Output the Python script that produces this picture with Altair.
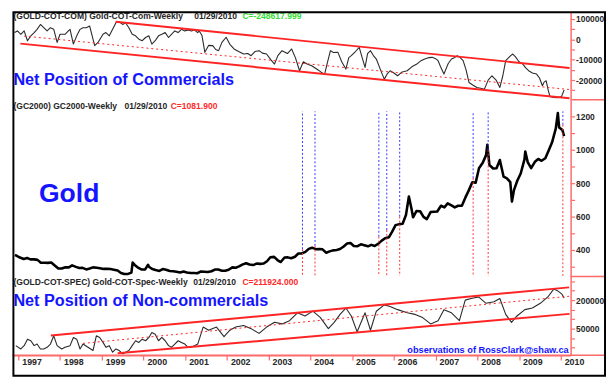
import altair as alt
import pandas as pd

FONT = "Liberation Sans, Arial, sans-serif"
AXIS_RED = "#ff6a6a"
CH_RED = "#ff2424"
BLUE = "#1414ff"
DARK = "#262626"

# ---------------- data (decimal years) ----------------
years = list(range(1997, 2011))
x_domain = [1996.859, 2010.236]

com_t = [1996.91, 1996.98, 1997.06, 1997.14, 1997.22, 1997.30, 1997.38, 1997.45,
         1997.53, 1997.61, 1997.69, 1997.77, 1997.85, 1997.89, 1997.93, 1998.00, 1998.12, 1998.20,
         1998.24, 1998.32, 1998.40, 1998.48, 1998.55, 1998.63, 1998.71, 1998.75, 1998.83, 1998.91,
         1999.03, 1999.10, 1999.18, 1999.26, 1999.34, 1999.42, 1999.50, 1999.57, 1999.65, 1999.73,
         1999.81, 1999.89, 1999.97, 2000.05, 2000.13, 2000.20, 2000.28, 2000.36, 2000.44, 2000.52,
         2000.60, 2000.67, 2000.75, 2000.83, 2000.91, 2000.99, 2001.07, 2001.15, 2001.22, 2001.30,
         2001.33, 2001.40, 2001.47, 2001.56, 2001.66, 2001.73, 2001.80, 2001.88, 2001.98, 2002.07,
         2002.17, 2002.28, 2002.40, 2002.50, 2002.58, 2002.67, 2002.77, 2002.85, 2002.95, 2003.05,
         2003.14, 2003.22, 2003.32, 2003.45, 2003.55, 2003.64, 2003.74, 2003.83, 2003.92, 2004.03,
         2004.15, 2004.25, 2004.34, 2004.40, 2004.48, 2004.55, 2004.66, 2004.75, 2004.85, 2004.92,
         2004.98, 2005.08, 2005.17, 2005.24, 2005.31, 2005.37, 2005.44, 2005.51, 2005.58, 2005.68,
         2005.77, 2005.84, 2005.91, 2006.00, 2006.09, 2006.20, 2006.32, 2006.43, 2006.55, 2006.65,
         2006.74, 2006.83, 2006.92, 2007.00, 2007.06, 2007.13, 2007.20, 2007.30, 2007.38, 2007.45,
         2007.52, 2007.59, 2007.66, 2007.73, 2007.80, 2007.90, 2007.99, 2008.08, 2008.17, 2008.26,
         2008.35, 2008.45, 2008.54, 2008.61, 2008.68, 2008.80, 2008.85, 2008.91, 2009.00, 2009.09,
         2009.16, 2009.23, 2009.32, 2009.42, 2009.49, 2009.56, 2009.60, 2009.65, 2009.70, 2009.74,
         2009.83, 2009.92, 2010.02, 2010.08]
com_v = [32700, 40900, 24500, 40900, -7200, 16800, 32700, 48600,
         72600, 56700, 40900, 56700, 48600, 16800, -15400, 24500, 24500, 40900,
         48600, -23500, 16800, 48600, 56700, 56700, 64700, 32700, -31300, -15400,
         24500, 32700, 16800, 48600, 80800, 85600, 72600, 80800, 56700, 24500,
         16800, 500, -7200, 8700, 16800, -23500, -7200, 16800, 24500, 32700,
         8700, 24500, 40900, 32700, 48600, 40900, 46000, 40900, 45000, 32700,
         42000, 20000, -64000, -30000, -31200, -50000, -55800, -15000, 9800, -25000,
         -47600, -60000, -72200, -70000, -80400, -60000, -55800, -68000, -72200, -100000,
         -121400, -80000, -55800, -70000, -47600, -90000, -154200, -110000, -121400, -130000,
         -146000, -160000, -172000, -120000, -55800, -65000, -64000, -110000, -146000, -90000,
         -80400, -60000, -39400, -90000, -137800, -70000, -55800, -80000, -96800, -150000,
         -195200, -170000, -154200, -165000, -178800, -160000, -154200, -135000, -121400, -105000,
         -96800, -90000, -88600, -95000, -105000, -140000, -170600, -120000, -96800, -90000,
         -80400, -90000, -105000, -150000, -211600, -225000, -236200, -240000, -244400, -200000,
         -178800, -200000, -236200, -180000, -105000, -80000, -72200, -85000, -110000, -121400,
         -140000, -154200, -165000, -170600, -190000, -228000, -210000, -203400, -250000, -280000,
         -285000, -286000, -280000, -248600]

gold_t = [1996.92, 1997.04, 1997.13, 1997.21, 1997.29, 1997.38, 1997.46, 1997.54,
          1997.63, 1997.71, 1997.79, 1997.88, 1997.96, 1998.04, 1998.13, 1998.21, 1998.29, 1998.38,
          1998.46, 1998.54, 1998.63, 1998.71, 1998.79, 1998.88, 1998.96, 1999.04, 1999.13, 1999.21,
          1999.29, 1999.38, 1999.46, 1999.54, 1999.63, 1999.71, 1999.74, 1999.79, 1999.88, 1999.96,
          2000.04, 2000.11, 2000.13, 2000.21, 2000.29, 2000.38, 2000.46, 2000.54, 2000.63, 2000.71,
          2000.79, 2000.88, 2000.96, 2001.04, 2001.13, 2001.21, 2001.29, 2001.38, 2001.46, 2001.54,
          2001.63, 2001.71, 2001.79, 2001.88, 2001.96, 2002.04, 2002.13, 2002.21, 2002.29, 2002.38,
          2002.46, 2002.54, 2002.63, 2002.71, 2002.79, 2002.88, 2002.96, 2003.04, 2003.13, 2003.21,
          2003.29, 2003.38, 2003.46, 2003.54, 2003.63, 2003.71, 2003.79, 2003.88, 2003.96, 2004.04,
          2004.13, 2004.21, 2004.29, 2004.38, 2004.46, 2004.54, 2004.63, 2004.71, 2004.79, 2004.88,
          2004.96, 2005.04, 2005.13, 2005.21, 2005.29, 2005.38, 2005.46, 2005.54, 2005.63, 2005.71,
          2005.79, 2005.88, 2005.96, 2006.04, 2006.13, 2006.21, 2006.29, 2006.36, 2006.42, 2006.46,
          2006.54, 2006.63, 2006.71, 2006.79, 2006.88, 2006.96, 2007.04, 2007.13, 2007.21, 2007.29,
          2007.38, 2007.46, 2007.54, 2007.63, 2007.71, 2007.79, 2007.88, 2007.96, 2008.04, 2008.13,
          2008.21, 2008.24, 2008.29, 2008.38, 2008.46, 2008.54, 2008.63, 2008.71, 2008.79, 2008.83,
          2008.88, 2008.96, 2009.04, 2009.13, 2009.15, 2009.21, 2009.29, 2009.38, 2009.46, 2009.54,
          2009.63, 2009.71, 2009.79, 2009.88, 2009.93, 2009.96, 2010.04, 2010.08]
gold_v = [371, 355, 346, 352, 344, 344, 341, 324,
          324, 323, 325, 306, 289, 289, 297, 296, 308, 299,
          292, 293, 284, 289, 296, 294, 291, 287, 287, 286,
          282, 277, 262, 256, 257, 265, 325, 311, 293, 283,
          284, 312, 300, 286, 280, 275, 286, 282, 274, 273,
          270, 266, 272, 266, 262, 263, 261, 272, 270, 268,
          273, 283, 283, 276, 276, 282, 296, 294, 302, 314,
          321, 313, 310, 319, 317, 319, 333, 357, 359, 340,
          328, 355, 356, 351, 360, 379, 379, 389, 407, 414,
          405, 406, 404, 384, 392, 398, 400, 406, 420, 439,
          442, 424, 423, 434, 429, 422, 431, 424, 438, 456,
          470, 476, 510, 549, 555, 557, 610, 720, 650, 596,
          633, 632, 598, 585, 627, 629, 631, 665, 655, 679,
          667, 655, 665, 665, 712, 754, 806, 803, 889, 922,
          968, 1030, 909, 888, 889, 939, 839, 829, 806, 690,
          760, 816, 858, 943, 990, 924, 890, 928, 945, 934,
          949, 996, 1043, 1127, 1220, 1134, 1118, 1082]

spec_t = [1996.94, 1997.06, 1997.14, 1997.22, 1997.30, 1997.38, 1997.45, 1997.53,
          1997.61, 1997.69, 1997.77, 1997.85, 1997.93, 1998.04, 1998.12, 1998.24, 1998.32, 1998.40,
          1998.48, 1998.55, 1998.67, 1998.79, 1998.87, 1998.95, 1999.03, 1999.10, 1999.18, 1999.26,
          1999.34, 1999.42, 1999.50, 1999.57, 1999.65, 1999.73, 1999.81, 1999.89, 1999.97, 2000.05,
          2000.13, 2000.20, 2000.28, 2000.36, 2000.44, 2000.52, 2000.60, 2000.67, 2000.75, 2000.83,
          2000.91, 2000.99, 2001.07, 2001.15, 2001.22, 2001.30, 2001.43, 2001.56, 2001.75, 2001.93,
          2002.07, 2002.21, 2002.40, 2002.58, 2002.77, 2002.95, 2003.14, 2003.32, 2003.50, 2003.69,
          2003.87, 2004.06, 2004.24, 2004.43, 2004.57, 2004.71, 2004.85, 2004.98, 2005.12, 2005.31,
          2005.44, 2005.58, 2005.77, 2005.91, 2006.09, 2006.32, 2006.51, 2006.69, 2006.88, 2007.06,
          2007.20, 2007.38, 2007.57, 2007.71, 2007.85, 2008.03, 2008.21, 2008.40, 2008.54, 2008.68,
          2008.82, 2008.95, 2009.14, 2009.32, 2009.51, 2009.69, 2009.83, 2009.92, 2010.02, 2010.08]
spec_v = [-39500, -57000, -39500, -5300, -13700, -39500, -31100, -57000,
          -57000, -48300, -31100, 12200, -39500, -57000, -48300, -39500, 3500, -5300,
          -57000, -31100, -48300, -65300, 12200, 3500, -22400, -48300, -39500, -74100,
          -57000, -65300, -82900, -74100, -65300, -39500, -13700, -22400, -5300, -13700,
          3500, 29300, 20500, -13700, 3500, -13700, -39500, -48300, -31100, -13700,
          -22400, -31100, -48300, -48000, -39500, -31100, 58300, 41700, 58300, 8300,
          41700, 58300, 66700, 50000, 25000, 58300, 83300, 75000, 91700, 133300,
          116700, 142000, 108300, 50000, 83300, 125000, 158300, 116700, 33300, 133300,
          41700, 141700, 175000, 166700, 150000, 133300, 125000, 108300, 75000, 91700,
          150000, 133300, 91700, 200000, 208300, 216700, 183300, 191700, 208300, 125000,
          83300, 116700, 150000, 158300, 183300, 216700, 258300, 250000, 233300, 211924]

# trend channels: start (t1, v1) -> end (t2, v2)
com_chan_t1 = [1999.33, 1997.05]
com_chan_v1 = [85600, -21400]
com_chan_t2 = [2010.21, 2010.21]
com_chan_v2 = [-140400, -289400]
com_mid = [1997.14, 15600, 2010.21, -246300]

spec_chan_t1 = [1997.78, 1999.38]
spec_chan_v1 = [13800, -80000]
spec_chan_t2 = [2010.20, 2010.21]
spec_chan_v2 = [267200, 127600]
spec_mid = [1998.55, -27600, 2010.21, 220700]

vline_t = [2003.81, 2004.11, 2005.64, 2005.83, 2006.14, 2007.90, 2008.26, 2010.05]
vline_split = [405, 425, 480, 520, 600, 830, 1000, 1150]

com_ticks = [100000, 50000, 0, -50000, -100000, -150000, -200000, -250000]
com_tick_labels = {100000: "100000", 0: "0", -100000: "-10000", -200000: "-20000"}
gold_ticks = [300, 400, 500, 600, 700, 800, 900, 1000, 1100, 1200]
gold_tick_labels = {400: "400", 600: "600", 800: "800", 1000: "1000", 1200: "1200"}
spec_ticks = [300000, 250000, 200000, 150000, 100000, 50000, 0, -50000]
spec_tick_labels = {200000: "200000", 50000: "50000"}

com_header = ["(GOLD-COT-COM) Gold-COT-Com-Weekly", "01/29/2010", "C=-248617.999"]
gold_header = ["(GC2000) GC2000-Weekly", "01/29/2010", "C=1081.900"]
spec_header = ["(GOLD-COT-SPEC) Gold-COT-Spec-Weekly", "01/29/2010", "C=211924.000"]

W = 568


def label_expr(mapping):
    expr = "''"
    for k, v in mapping.items():
        expr = f"datum.value == {k} ? '{v}' : ({expr})"
    return expr


def y_axis(ticks, labels):
    return alt.Axis(orient="right", values=ticks, labelExpr=label_expr(labels), title=None,
                    grid=False, domainColor=AXIS_RED, domainWidth=1.5, tickColor=AXIS_RED,
                    tickSize=4, tickWidth=1.2, labelPadding=1, labelFont=FONT, labelFontSize=8.6,
                    labelFontWeight="bold", labelColor=DARK, labelFlush=False, labelOverlap=False)


xscale = alt.Scale(domain=x_domain, nice=False, zero=False)


def one_row():
    return pd.DataFrame({"a": [0]})


def text_layer(txt, x, y, size, color, align="left", baseline="middle"):
    return alt.Chart(pd.DataFrame({"s": [txt]})).mark_text(
        align=align, baseline=baseline, font=FONT, fontSize=size, fontWeight="bold", color=color
    ).encode(x=alt.value(x), y=alt.value(y), text="s:N")


def header_layers(hdr, xs, y, ccolor):
    return [text_layer(hdr[0], xs[0], y, 8.7, DARK),
            text_layer(hdr[1], xs[1], y, 8.7, DARK),
            text_layer(hdr[2], xs[2], y, 8.7, ccolor)]


def panel(series_df, line_color, line_width, ysc, yax, xaxis, extra, height):
    yenc = lambda f: alt.Y(f, scale=ysc, axis=yax)
    xenc = lambda f: alt.X(f, scale=xscale, axis=xaxis)
    base = alt.Chart(series_df).mark_line(color=line_color, strokeWidth=line_width, clip=True,
                                          strokeJoin="round").encode(x=xenc("t:Q"), y=yenc("v:Q"))
    layers = [base] + [f(xenc, yenc) for f in extra]
    return alt.layer(*layers).properties(width=W, height=height)


# ---------------- top panel: commercials ----------------
com_df = pd.DataFrame({"t": com_t, "v": com_v})
com_sc = alt.Scale(domain=[-295860, 137460], nice=False, zero=False)
com_ax = y_axis(com_ticks, com_tick_labels)
com_ch = pd.DataFrame({"t": com_chan_t1, "v": com_chan_v1, "t2": com_chan_t2, "v2": com_chan_v2})
com_md = pd.DataFrame({"t": [com_mid[0]], "v": [com_mid[1]], "t2": [com_mid[2]], "v2": [com_mid[3]]})

top = panel(
    com_df, "#2a2a2a", 1.1, com_sc, com_ax, None,
    [
        lambda xe, ye: alt.Chart(com_md).mark_rule(color=CH_RED, strokeWidth=1, strokeDash=[2, 3]).encode(
            x=xe("t:Q"), x2="t2:Q", y=ye("v:Q"), y2="v2:Q"),
        lambda xe, ye: alt.Chart(com_ch).mark_rule(color=CH_RED, strokeWidth=2).encode(
            x=xe("t:Q"), x2="t2:Q", y=ye("v:Q"), y2="v2:Q"),
        lambda xe, ye: alt.Chart(one_row()).mark_rule(color=AXIS_RED, strokeWidth=1.5).encode(
            x=alt.value(W), x2=alt.value(603), y=alt.value(90)),
        lambda xe, ye: text_layer("Net Position of Commercials", 1, 75, 16.5, BLUE, baseline="alphabetic"),
    ] + [lambda xe, ye, l=l: l for l in header_layers(com_header, [1, 185, 234], 5, "#33dd33")],
    90,
)

# ---------------- middle panel: gold ----------------
gold_df = pd.DataFrame({"t": gold_t, "v": gold_v})
gold_sc = alt.Scale(domain=[241.2, 1300], nice=False, zero=False)
gold_ax = y_axis(gold_ticks, gold_tick_labels)
vl_df = pd.DataFrame({"t": vline_t, "v": vline_split})

mid = panel(
    gold_df, "#000000", 2.6, gold_sc, gold_ax, None,
    [
        lambda xe, ye: alt.Chart(vl_df).mark_rule(color="#3333ff", strokeWidth=1, strokeDash=[2, 2]).encode(
            x=xe("t:Q"), y=ye("v:Q"), y2=alt.datum(1230)),
        lambda xe, ye: alt.Chart(vl_df).mark_rule(color="#ff3333", strokeWidth=1, strokeDash=[2, 2]).encode(
            x=xe("t:Q"), y=ye("v:Q"), y2=alt.datum(245)),
        lambda xe, ye: alt.Chart(one_row()).mark_rule(color=AXIS_RED, strokeWidth=1.5).encode(
            x=alt.value(W), x2=alt.value(603), y=alt.value(180)),
        lambda xe, ye: text_layer("Gold", 27, 104, 27, BLUE, baseline="alphabetic"),
    ] + [lambda xe, ye, l=l: l for l in header_layers(gold_header, [1, 114, 161], 6, "#ff2a2a")],
    180,
)

# ---------------- bottom panel: non-commercials ----------------
spec_df = pd.DataFrame({"t": spec_t, "v": spec_v})
spec_sc = alt.Scale(domain=[-89600, 324100], nice=False, zero=False)
spec_ax = y_axis(spec_ticks, spec_tick_labels)
spec_ch = pd.DataFrame({"t": spec_chan_t1, "v": spec_chan_v1, "t2": spec_chan_t2, "v2": spec_chan_v2})
spec_md = pd.DataFrame({"t": [spec_mid[0]], "v": [spec_mid[1]], "t2": [spec_mid[2]], "v2": [spec_mid[3]]})
x_ax = alt.Axis(orient="bottom", values=years, format="d", title=None, grid=False,
                domainColor=AXIS_RED, domainWidth=1.5, tickColor=AXIS_RED, tickSize=5, tickWidth=1.2,
                labelAlign="left", labelOffset=3.5, labelPadding=-2, labelFont=FONT, labelFontSize=9,
                labelFontWeight="bold", labelColor=DARK, labelFlush=False, labelOverlap=False)

bot = panel(
    spec_df, "#2a2a2a", 1.1, spec_sc, spec_ax, x_ax,
    [
        lambda xe, ye: alt.Chart(spec_md).mark_rule(color=CH_RED, strokeWidth=1, strokeDash=[2, 3]).encode(
            x=xe("t:Q"), x2="t2:Q", y=ye("v:Q"), y2="v2:Q"),
        lambda xe, ye: alt.Chart(spec_ch).mark_rule(color=CH_RED, strokeWidth=2).encode(
            x=xe("t:Q"), x2="t2:Q", y=ye("v:Q"), y2="v2:Q"),
        lambda xe, ye: alt.Chart(one_row()).mark_rule(color=AXIS_RED, strokeWidth=1.5).encode(
            x=alt.value(0), x2=alt.value(603), y=alt.value(80)),
        lambda xe, ye: text_layer("Net Position of Non-commercials", 1, 30, 16.5, BLUE, baseline="alphabetic"),
        lambda xe, ye: text_layer("observations of RossClark@shaw.ca", 566, 77.5, 9.4, BLUE,
                                  align="right", baseline="alphabetic"),
        lambda xe, ye: alt.Chart(one_row()).mark_rect(filled=False, stroke="#000000", strokeWidth=2).encode(
            x=alt.value(1), x2=alt.value(603), y=alt.value(-269), y2=alt.value(101)),
    ] + [lambda xe, ye, l=l: l for l in header_layers(spec_header, [1, 184, 234], 6, "#ff2a2a")],
    80,
)

chart = alt.vconcat(top, mid, bot, spacing=0, bounds="flush").properties(
    padding={"left": 3.5, "top": 0, "right": 0, "bottom": 0}, background="white"
).configure_view(stroke=None)

chart.save("out.html", embed_options={"renderer": "svg", "actions": False})
